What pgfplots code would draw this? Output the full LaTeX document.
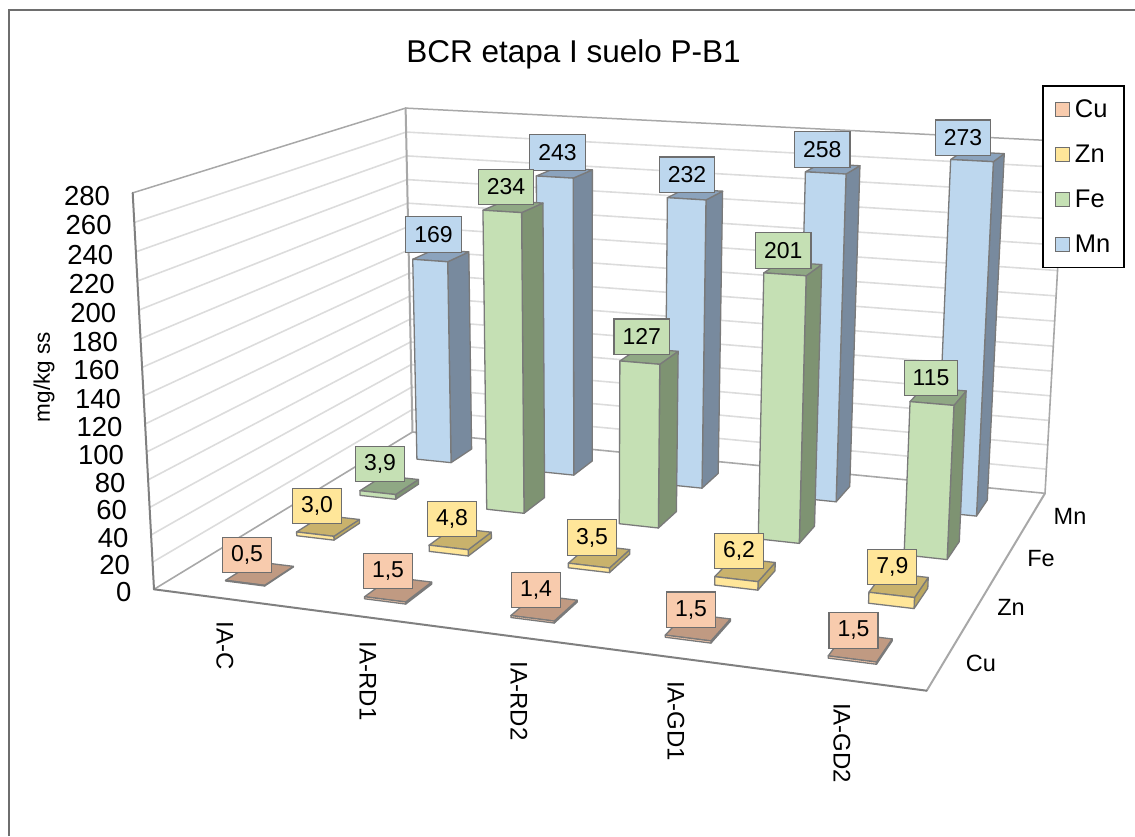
\documentclass[border=0pt]{standalone}
\usepackage{pgfplots}
\usepackage{fontspec}
\setmainfont{Liberation Sans}
\pgfplotsset{compat=1.18}

% Perspective projection: category u (0..5), series v (0..4), value w (0..280)
\newcommand\ProjW[3]{(1-0.12694*(#1)/5+0.2454*(#2)/4-0.0466*(#3)/280)}
\newcommand\ProjX[3]{((655.07*(#1)/5+359.73*(#2)/4+154-27.49*(#3)/280)/\ProjW{#1}{#2}{#3})}
% the last term is a slight tilt of the back wall's upper part
\newcommand\ProjY[3]{((13.72*(#1)/5-51.29*(#2)/4+589.3-405.42*(#3)/280)/\ProjW{#1}{#2}{#3}+((#3)/280)*((#2)/4)*(-2.5+7.3*(#1)/5))}

\definecolor{cuF}{HTML}{F8CBAD}\definecolor{cuT}{HTML}{C09A82}\definecolor{cuS}{HTML}{A88873}
\definecolor{znF}{HTML}{FFE699}\definecolor{znT}{HTML}{C9B26C}\definecolor{znS}{HTML}{BBA760}
\definecolor{feF}{HTML}{C5E0B4}\definecolor{feT}{HTML}{8FA884}\definecolor{feS}{HTML}{7E9372}
\definecolor{mnF}{HTML}{BDD7EE}\definecolor{mnT}{HTML}{8BA3BD}\definecolor{mnS}{HTML}{788A9E}
\definecolor{edge}{HTML}{7A7A7A}
\definecolor{lbl}{HTML}{6E6E6E}
\definecolor{gridC}{HTML}{DCDCDC}
\definecolor{wall}{HTML}{A8A8A8}
\definecolor{wallD}{HTML}{808080}
\definecolor{frameC}{HTML}{6E6E6E}

% One face of a column; a, b, c switch between the low and high side of u, v, w
\newcommand\Face[5]{%
  \addplot[forget plot,fill=#4,draw=edge,line width=1.3pt,line join=round]
    table[row sep=\\,
      x expr={\ProjX{#1+0.357+0.286*\thisrow{a}}{#2+0.3+0.4*\thisrow{b}}{(#3)*\thisrow{c}}},
      y expr={\ProjY{#1+0.357+0.286*\thisrow{a}}{#2+0.3+0.4*\thisrow{b}}{(#3)*\thisrow{c}}}]
    {#5} --cycle;}
% A column: category, series row, value, colour prefix
\newcommand\Column[4]{%
  \Face{#1}{#2}{#3}{#4S}{a b c\\ 1 0 0\\ 1 1 0\\ 1 1 1\\ 1 0 1\\}%
  \Face{#1}{#2}{#3}{#4T}{a b c\\ 0 0 1\\ 1 0 1\\ 1 1 1\\ 0 1 1\\}%
  \Face{#1}{#2}{#3}{#4F}{a b c\\ 0 0 0\\ 1 0 0\\ 1 0 1\\ 0 0 1\\}}
% A straight line between two points of the chart box
\newcommand\BoxLine[8]{%
  \addplot[forget plot,draw=#7,line width=#8,line cap=round]
    table[row sep=\\,x expr={\ProjX{\thisrow{u}}{\thisrow{v}}{\thisrow{w}}},
      y expr={\ProjY{\thisrow{u}}{\thisrow{v}}{\thisrow{w}}}]
    {u v w\\ #1 #2 #3\\ #4 #5 #6\\};}
% Boxed value labels of one series
\newcommand\ValueLabels[2]{%
  \addplot[forget plot,draw=none,mark=none,point meta=explicit symbolic,nodes near coords,
    nodes near coords style={anchor=center,draw=lbl,line width=1.3pt,fill=#1F,
      font=\fontsize{23}{26}\selectfont,minimum height=35.5pt,inner xsep=8.5pt,inner ysep=0pt,
      text=black}]
    table[row sep=\\,meta=lab]{x y lab\\ #2};}

\begin{document}
\begin{tikzpicture}[x=1pt,y=1pt]
\useasboundingbox (0,0) rectangle (1135,836);
\begin{axis}[
  at={(0,0)},anchor=south west,
  scale only axis,width=1135pt,height=836pt,
  xmin=0,xmax=1135,ymin=0,ymax=836,y dir=reverse,
  axis lines=none,clip=false,
  legend style={at={(0.9183,0.8983)},anchor=north west,draw=black,line width=1.6pt,
    font=\fontsize{25.5}{29}\selectfont,fill=white,
    inner xsep=11.5pt,inner ysep=12pt,row sep=21.8pt},
  legend cell align=left,
  legend image code/.code={%
    \draw[#1,line width=1.2pt,draw=lbl] (0pt,-7pt) rectangle (14pt,7pt);
    \path (17pt,0pt);},
]
% chart frame
\addplot[forget plot,frameC,line width=2pt] coordinates {(9,836) (9,10) (1135,10)};

% gridlines on the two walls
\pgfplotsinvokeforeach{20,40,...,260}{%
  \BoxLine{0}{0}{#1}{0}{4}{#1}{gridC}{1.6pt}
  \BoxLine{0}{4}{#1}{5}{4}{#1}{gridC}{1.6pt}}
% box edges
\BoxLine{0}{4}{280}{5}{4}{280}{wall}{1.5pt}
\BoxLine{0}{0}{280}{0}{4}{280}{wall}{1.5pt}
\BoxLine{5}{4}{0}{5}{4}{280}{wall}{1.6pt}
\BoxLine{0}{4}{0}{0}{4}{280}{wall}{2pt}
\BoxLine{0}{4}{0}{5}{4}{0}{wall}{1.6pt}
\BoxLine{0}{0}{0}{0}{4}{0}{wall}{1.6pt}
\BoxLine{5}{0}{0}{5}{4}{0}{wall}{2pt}
\BoxLine{0}{0}{0}{0}{0}{280}{wallD}{2pt}
\BoxLine{0}{0}{0}{5}{0}{0}{wallD}{2pt}

% columns, far row first
\Column{0}{3}{169}{mn}\Column{1}{3}{243}{mn}\Column{2}{3}{232}{mn}\Column{3}{3}{258}{mn}\Column{4}{3}{273}{mn}
\Column{0}{2}{3.9}{fe}\Column{1}{2}{234}{fe}\Column{2}{2}{127}{fe}\Column{3}{2}{201}{fe}\Column{4}{2}{115}{fe}
\Column{0}{1}{3.0}{zn}\Column{1}{1}{4.8}{zn}\Column{2}{1}{3.5}{zn}\Column{3}{1}{6.2}{zn}\Column{4}{1}{7.9}{zn}
\Column{0}{0}{0.5}{cu}\Column{1}{0}{1.5}{cu}\Column{2}{0}{1.4}{cu}\Column{3}{0}{1.5}{cu}\Column{4}{0}{1.5}{cu}

% value scale along the front left edge
\addplot[forget plot,draw=none,mark=none,point meta=explicit symbolic,nodes near coords,
  nodes near coords style={anchor=east,font=\fontsize{27.5}{30}\selectfont,inner sep=0pt,
    xshift=-22.5pt,yshift=-3pt,text=black}]
  table[row sep=\\,meta=w,x expr={\ProjX{0}{0}{\thisrow{w}}},y expr={\ProjY{0}{0}{\thisrow{w}}}]
  {w\\ 0\\ 20\\ 40\\ 60\\ 80\\ 100\\ 120\\ 140\\ 160\\ 180\\ 200\\ 220\\ 240\\ 260\\ 280\\};

% value labels
\ValueLabels{mn}{433.5 234.5 169\\ 557.5 152.5 243\\ 687 174.7 232\\ 822.3 149.5 258\\ 963 137.7 273\\}
\ValueLabels{fe}{380 464 3,9\\ 506 187 234\\ 641.7 336.7 127\\ 783.3 250.5 201\\ 931 378 115\\}
\ValueLabels{zn}{317 506 3,0\\ 452 519 4,8\\ 592 537.5 3,5\\ 739 551 6,2\\ 892.3 567 7,9\\}
\ValueLabels{cu}{247 555 0,5\\ 388 571 1,5\\ 536 590 1,4\\ 691 609.7 1,5\\ 853.5 630.5 1,5\\}

% texts
\node[font=\fontsize{31.5}{35}\selectfont,anchor=center] at (axis cs:573.5,54) {BCR etapa I suelo P-B1};
\node[font=\fontsize{22.5}{26}\selectfont,rotate=90,anchor=center] at (axis cs:44,377) {mg/kg ss};
\foreach \lx/\ly/\lt in {225/621.7/IA-C,368/641.7/IA-RD1,519/661.7/IA-RD2,676/681/IA-GD1,842/703/IA-GD2}{
  \edef\tmp{\noexpand\node[font=\noexpand\fontsize{24}{28}\noexpand\selectfont,rotate=-90,anchor=west,inner sep=0pt]
    at (axis cs:\lx,\ly) {\lt};}\tmp}
\node[font=\fontsize{23.5}{27}\selectfont] at (axis cs:981,663) {Cu};
\node[font=\fontsize{23.5}{27}\selectfont] at (axis cs:1011,607) {Zn};
\node[font=\fontsize{23.5}{27}\selectfont] at (axis cs:1041,559) {Fe};
\node[font=\fontsize{23.5}{27}\selectfont] at (axis cs:1070,516) {Mn};

% legend
\addlegendimage{fill=cuF}\addlegendentry{Cu}
\addlegendimage{fill=znF}\addlegendentry{Zn}
\addlegendimage{fill=feF}\addlegendentry{Fe}
\addlegendimage{fill=mnF}\addlegendentry{Mn}
\end{axis}
\end{tikzpicture}
\end{document}
